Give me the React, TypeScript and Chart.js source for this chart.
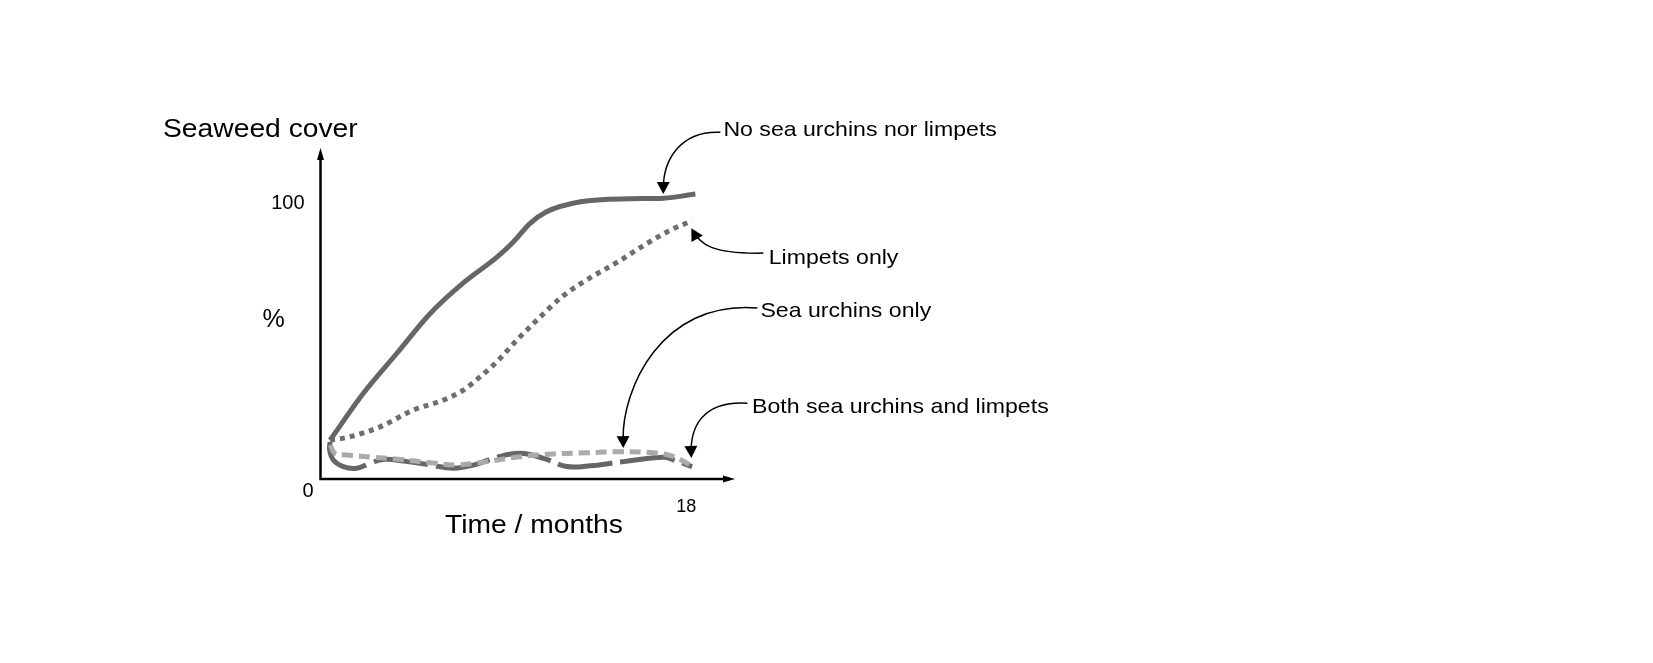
import { useEffect, useRef } from 'react';
import { Chart, registerables } from 'chart.js';

Chart.register(...registerables);

// months and % seaweed cover
const noGrazersMonths = [0.47, 2.1, 3.75, 5.4, 7.0, 8.7, 9.5, 10.3, 11.1, 12.8, 15.2, 16.9, 18.45];
const noGrazersCover = [14.1, 31.0, 45.5, 60.0, 70.9, 80.5, 86.0, 92.6, 96.8, 100.5, 101.6, 101.8, 103.3];

const limpetsMonths = [0.47, 1.45, 2.93, 4.57, 6.05, 7.03, 7.86, 8.68, 9.67, 10.65, 11.96, 13.28, 14.59, 16.07, 17.38, 18.29];
const limpetsCover = [14.1, 15.3, 18.9, 25.0, 28.6, 32.2, 37.1, 42.5, 50.4, 57.6, 66.5, 73.0, 78.5, 85.4, 90.8, 93.6];

const urchinsMonths = [0.47, 0.71, 1.29, 2.6, 3.92, 5.39, 6.71, 8.19, 9.83, 11.47, 13.11, 14.75, 16.39, 17.38, 18.2];
const urchinsCover = [12.3, 9.3, 8.7, 7.9, 7.1, 5.9, 5.1, 6.3, 8.1, 9.1, 9.5, 9.9, 9.5, 8.1, 5.1];

const bothMonths = [0.47, 0.45, 0.63, 1.12, 1.78, 2.44, 3.09, 4.25, 5.39, 6.54, 7.69, 8.68, 9.83, 10.98, 12.13, 13.28, 14.92, 16.89, 17.38, 18.29];
const bothCover = [13.5, 10.5, 6.9, 4.5, 3.9, 5.7, 7.1, 6.3, 5.1, 3.9, 5.4, 7.9, 9.3, 7.5, 4.5, 4.8, 6.3, 7.9, 6.9, 4.5];

const yTickLabels = ['0', '100'];
const xTickLabel = '18';

// callouts: text, text anchor, arrow start, two control points, tip (all in months / %)
const callouts = [
  { text: 'No sea urchins nor limpets', at: [19.83, 124.4], path: [[19.68, 125.7], [17.71, 126.4], [16.87, 115.6], [16.87, 103.3]] },
  { text: 'Limpets only', at: [22.06, 77.9], path: [[21.8, 81.9], [19.24, 81.5], [18.69, 85.1], [18.25, 90.9]] },
  { text: 'Sea urchins only', at: [21.65, 58.6], path: [[21.5, 62.0], [16.72, 64.9], [14.85, 32.2], [14.9, 11.2]] },
  { text: 'Both sea urchins and limpets', at: [21.24, 23.8], path: [[21.01, 27.5], [18.69, 28.6], [18.2, 17.8], [18.25, 7.6]] },
];

const FONT = '"Liberation Sans", Arial, sans-serif';

const toPoints = (xs: number[], ys: number[]) => xs.map((x, i) => ({ x, y: ys[i] }));

function stretchedText(ctx: CanvasRenderingContext2D, text: string, x: number, y: number, size: number, sx: number, align: CanvasTextAlign = 'left') {
  ctx.save();
  ctx.translate(x, y);
  ctx.scale(sx, 1);
  ctx.font = `${size}px ${FONT}`;
  ctx.textAlign = align;
  ctx.textBaseline = 'alphabetic';
  ctx.fillStyle = '#000';
  ctx.fillText(text, 0, 0);
  ctx.restore();
}

function arrowHead(ctx: CanvasRenderingContext2D, fromX: number, fromY: number, tipX: number, tipY: number, len: number, half: number) {
  const a = Math.atan2(tipY - fromY, tipX - fromX);
  ctx.beginPath();
  ctx.moveTo(tipX, tipY);
  ctx.lineTo(tipX - len * Math.cos(a) + half * Math.sin(a), tipY - len * Math.sin(a) - half * Math.cos(a));
  ctx.lineTo(tipX - len * Math.cos(a) - half * Math.sin(a), tipY - len * Math.sin(a) + half * Math.cos(a));
  ctx.closePath();
  ctx.fill();
}

const decorations = {
  id: 'decorations',
  afterDraw(chart: any) {
    const { ctx, chartArea, scales } = chart;
    const x = scales.x;
    const y = scales.y;
    const left = chartArea.left;
    const bottom = chartArea.bottom;
    const top = chartArea.top;
    const right = chartArea.right;

    ctx.save();
    ctx.strokeStyle = '#000';
    ctx.fillStyle = '#000';
    ctx.lineWidth = 2.5;
    ctx.beginPath();
    ctx.moveTo(left, top + 6);
    ctx.lineTo(left, bottom);
    ctx.lineTo(right - 6, bottom);
    ctx.stroke();
    arrowHead(ctx, left, top + 20, left, top, 12, 3.5);
    arrowHead(ctx, right - 20, bottom, right, bottom, 12, 3.5);

    // tick labels
    ctx.font = `20px ${FONT}`;
    ctx.textBaseline = 'middle';
    ctx.textAlign = 'right';
    ctx.fillText(yTickLabels[1], left - 16, y.getPixelForValue(100));
    ctx.textAlign = 'center';
    ctx.fillText(yTickLabels[0], left - 12.5, bottom + 12);
    ctx.font = `18px ${FONT}`;
    ctx.fillText(xTickLabel, x.getPixelForValue(18), bottom + 28);

    // axis titles
    stretchedText(ctx, 'Seaweed cover', left - 157.5, 137, 25, 1.13);
    stretchedText(ctx, '%', left - 47, 327, 25, 1, 'center');
    stretchedText(ctx, 'Time / months', 445, bottom + 54, 25, 1.13);

    // callouts
    ctx.lineWidth = 1.5;
    callouts.forEach((c) => {
      const p = c.path.map(([m, v]) => [x.getPixelForValue(m), y.getPixelForValue(v)]);
      ctx.beginPath();
      ctx.moveTo(p[0][0], p[0][1]);
      ctx.bezierCurveTo(p[1][0], p[1][1], p[2][0], p[2][1], p[3][0] - (p[3][0] - p[2][0]) * 0.15, p[3][1] - (p[3][1] - p[2][1]) * 0.15);
      ctx.stroke();
      arrowHead(ctx, p[2][0], p[2][1], p[3][0], p[3][1], 12, 6.5);
      stretchedText(ctx, c.text, x.getPixelForValue(c.at[0]), y.getPixelForValue(c.at[1]), 21, 1.1);
    });
    ctx.restore();
  },
};

export default function App() {
  const canvasRef = useRef<HTMLCanvasElement>(null);
  const chartRef = useRef<Chart | null>(null);

  useEffect(() => {
    if (!canvasRef.current) return;
    if (chartRef.current) chartRef.current.destroy();

    const common = { showLine: true, pointRadius: 0, borderWidth: 5, borderCapStyle: 'butt' as const, fill: false };

    chartRef.current = new Chart(canvasRef.current, {
      type: 'scatter',
      data: {
        datasets: [
          {
            ...common,
            label: 'No sea urchins nor limpets',
            data: toPoints(noGrazersMonths, noGrazersCover),
            borderColor: '#666666',
            cubicInterpolationMode: 'monotone',
            order: 1,
          },
          {
            ...common,
            label: 'Limpets only',
            data: toPoints(limpetsMonths, limpetsCover),
            borderColor: '#6e6e6e',
            borderDash: [5, 5],
            cubicInterpolationMode: 'monotone',
            order: 2,
          },
          {
            ...common,
            label: 'Sea urchins only',
            data: toPoints(urchinsMonths, urchinsCover),
            borderColor: '#aaaaaa',
            borderDash: [11, 6],
            tension: 0.4,
            order: 3,
          },
          {
            ...common,
            label: 'Both sea urchins and limpets',
            data: toPoints(bothMonths, bothCover),
            borderColor: '#666666',
            borderDash: [55, 8],
            tension: 0.4,
            order: 4,
          },
        ],
      },
      options: {
        animation: false,
        responsive: true,
        maintainAspectRatio: false,
        layout: { padding: { left: 320.5, right: 918, top: 148, bottom: 184 } },
        plugins: { legend: { display: false }, tooltip: { enabled: false } },
        scales: {
          x: { type: 'linear', min: 0, max: 20.4, display: false },
          y: { type: 'linear', min: 0, max: 120, display: false },
        },
      },
      plugins: [decorations],
    });

    return () => {
      if (chartRef.current) {
        chartRef.current.destroy();
        chartRef.current = null;
      }
    };
  }, []);

  return (
    <div style={{ position: 'fixed', left: 0, top: 0, width: 1653, height: 663, background: '#fff' }}>
      <canvas ref={canvasRef} />
    </div>
  );
}
